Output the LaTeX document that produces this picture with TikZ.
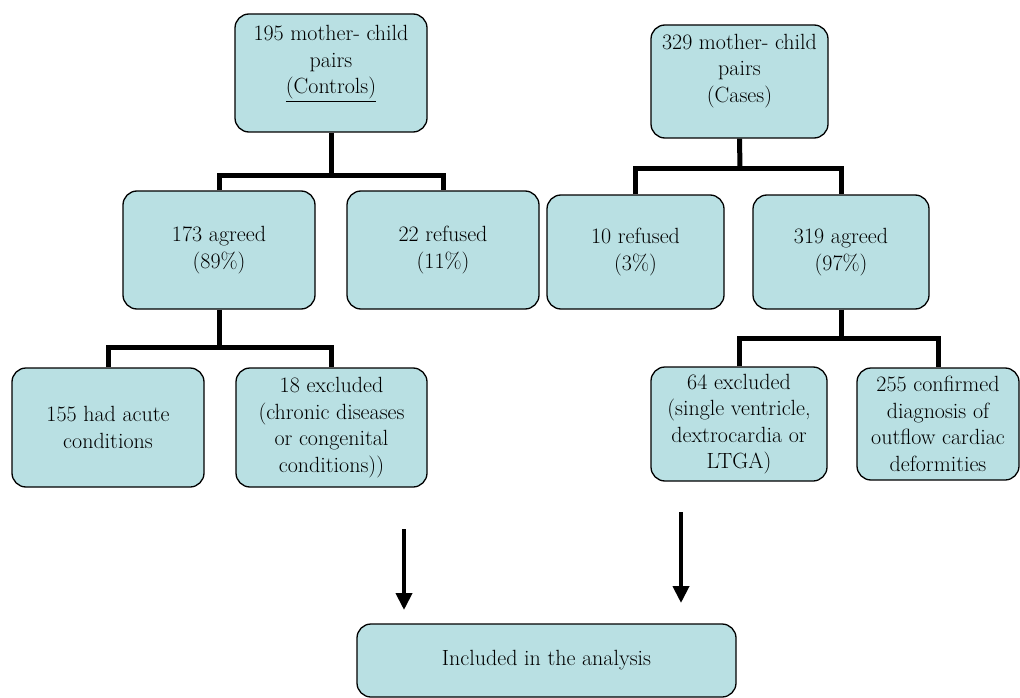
\documentclass[tikz,border=0pt]{standalone}
\usetikzlibrary{arrows.meta}
\definecolor{boxblue}{RGB}{185,224,227}

\begin{document}
\begin{tikzpicture}[x=1pt,y=-1pt,
  box/.style={draw, line width=1.3pt, fill=boxblue, rounded corners=14pt,
              align=center, inner sep=2pt, font=\fontsize{22}{26.5}\selectfont},
  link/.style={line width=5pt, line join=miter},
  down/.style={line width=4pt, -{Triangle[width=16pt,length=17pt]}}]

\useasboundingbox (0,0) rectangle (1020,698);

% controls branch
\node [box, minimum width=192pt, minimum height=118pt] (ctrl) at (331,73)
      {195 mother- child\\ pairs\\ \underline{(Controls)}\\ \mbox{}};
\node [box, minimum width=192pt, minimum height=118pt] (agrL) at (219,250)
      {173 agreed\\ (89\%)};
\node [box, minimum width=192pt, minimum height=118pt] (refL) at (443,250)
      {22 refused\\ (11\%)};
\node [box, minimum width=192pt, minimum height=119pt] (acute) at (108,427.5)
      {155 had acute\\ conditions};
\node [box, minimum width=191pt, minimum height=119pt] (exclL) at (331.5,427.5)
      {18 excluded\\ (chronic diseases\\ or congenital\\ conditions))};

% cases branch
\node [box, minimum width=177pt, minimum height=113pt] (cases) at (739.5,81.5)
      {329 mother- child\\ pairs\\ (Cases)\\ \mbox{}};
\node [box, minimum width=177pt, minimum height=114pt] (refR) at (635.5,252)
      {10 refused\\ (3\%)};
\node [box, minimum width=176pt, minimum height=114pt] (agrR) at (841,252)
      {319 agreed\\ (97\%)};
\node [box, minimum width=176pt, minimum height=114pt] (exclR) at (739,424)
      {64 excluded\\ (single ventricle,\\ dextrocardia or\\ LTGA)};
\node [box, minimum width=162pt, minimum height=112pt] (conf) at (938,424)
      {255 confirmed\\ diagnosis of\\ outflow cardiac\\ deformities};

% final box
\node [box, minimum width=379pt, minimum height=73pt] (incl) at (546.5,660.5)
      {Included in the analysis};

  % junctions of the tree lines
\coordinate (jA) at (331,175);
\coordinate (jB) at (740,168);
\coordinate (jC) at (219,347);
\coordinate (jD) at (841,338);

\draw [link] (ctrl.south) -- (jA);
\draw [link] (agrL.north) |- (jA) -| (refL.north);
\draw [link] (cases.south) -- (jB);
\draw [link] (refR.north) |- (jB) -| (agrR.north);
\draw [link] (agrL.south) -- (jC);
\draw [link] (acute.north) |- (jC) -| (exclL.north);
\draw [link] (agrR.south) -- (jD);
\draw [link] (exclR.north) |- (jD) -| (conf.north);

  % the two arrows above the final box
\coordinate (aL) at (404,529);
\coordinate (bL) at (404,610);
\coordinate (aR) at (681,512);
\coordinate (bR) at (681,603);
\draw [down] (aL) -- (bL);
\draw [down] (aR) -- (bR);

\end{tikzpicture}
\end{document}
